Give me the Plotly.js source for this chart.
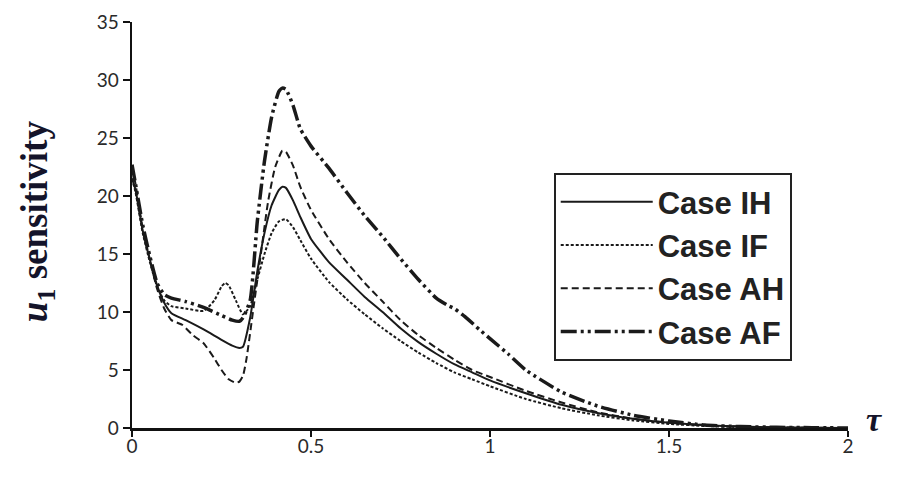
<!DOCTYPE html>
<html>
<head>
<meta charset="utf-8">
<script src="https://cdn.plot.ly/plotly-3.0.1.min.js"></script>
<style>html,body{margin:0;padding:0;background:#fff;}#chart{width:904px;height:479px;}</style>
</head>
<body>
<div id="chart"></div>
<script>
// ---- data ----
const seriesNames = ["Case IH", "Case IF", "Case AH", "Case AF"];

const tauIH  = [0, 0.01, 0.03, 0.05, 0.07, 0.09, 0.11, 0.15, 0.2, 0.25, 0.28, 0.3, 0.31, 0.33, 0.35, 0.37, 0.39, 0.41, 0.42, 0.43, 0.45, 0.47, 0.5, 0.55, 0.6, 0.65, 0.7, 0.75, 0.8, 0.85, 0.9, 0.95, 1.0, 1.1, 1.2, 1.3, 1.4, 1.5, 1.6, 1.7, 1.8, 1.9, 2.0];
const sensIH = [21.5, 20.5, 17.0, 14.5, 12.3, 10.8, 9.9, 9.3, 8.5, 7.6, 7.1, 6.9, 7.0, 9.5, 13.5, 16.8, 19.2, 20.5, 20.8, 20.7, 19.6, 18.2, 16.3, 14.3, 12.8, 11.3, 10.0, 8.6, 7.4, 6.4, 5.5, 4.8, 4.1, 3.0, 2.0, 1.3, 0.8, 0.45, 0.25, 0.12, 0.05, 0.02, 0.0];

const tauIF  = [0, 0.01, 0.03, 0.05, 0.07, 0.09, 0.11, 0.15, 0.2, 0.23, 0.25, 0.26, 0.27, 0.29, 0.31, 0.33, 0.35, 0.37, 0.39, 0.41, 0.43, 0.45, 0.47, 0.5, 0.55, 0.6, 0.65, 0.7, 0.75, 0.8, 0.85, 0.9, 0.95, 1.0, 1.1, 1.2, 1.3, 1.4, 1.5, 1.6, 1.7, 1.8, 1.9, 2.0];
const sensIF = [21.5, 20.3, 16.8, 14.3, 12.2, 11.0, 10.5, 10.3, 10.1, 11.0, 12.2, 12.5, 12.3, 11.0, 9.8, 10.5, 12.8, 15.0, 16.8, 17.8, 18.0, 17.3, 16.2, 14.6, 12.6, 11.1, 9.8, 8.6, 7.5, 6.5, 5.6, 4.8, 4.2, 3.6, 2.5, 1.7, 1.1, 0.65, 0.35, 0.18, 0.08, 0.04, 0.01, 0.0];

const tauAH  = [0, 0.01, 0.03, 0.05, 0.07, 0.09, 0.11, 0.14, 0.17, 0.2, 0.23, 0.25, 0.27, 0.29, 0.3, 0.31, 0.32, 0.34, 0.36, 0.38, 0.4, 0.42, 0.43, 0.45, 0.47, 0.5, 0.55, 0.6, 0.65, 0.7, 0.75, 0.8, 0.85, 0.9, 0.95, 1.0, 1.1, 1.2, 1.3, 1.4, 1.5, 1.6, 1.7, 1.8, 1.9, 2.0];
const sensAH = [22.5, 21.0, 17.2, 14.5, 12.0, 10.3, 9.3, 8.9, 8.0, 7.3, 6.0, 5.0, 4.2, 3.9, 4.0, 4.5, 6.0, 10.5, 15.0, 19.5, 22.5, 23.9, 23.8, 22.6, 20.8, 18.8, 16.3, 14.3, 12.5, 10.9, 9.3, 8.0, 6.9, 5.9, 5.0, 4.4, 3.2, 2.2, 1.35, 0.8, 0.45, 0.25, 0.12, 0.05, 0.02, 0.0];

const tauAF  = [0, 0.01, 0.03, 0.05, 0.07, 0.09, 0.11, 0.15, 0.2, 0.25, 0.28, 0.3, 0.31, 0.33, 0.35, 0.37, 0.39, 0.41, 0.42, 0.43, 0.45, 0.47, 0.5, 0.55, 0.6, 0.65, 0.7, 0.75, 0.8, 0.85, 0.88, 0.9, 0.93, 0.97, 1.0, 1.05, 1.1, 1.2, 1.3, 1.4, 1.5, 1.6, 1.7, 1.8, 1.9, 2.0];
const sensAF = [22.7, 21.0, 17.5, 14.8, 12.5, 11.5, 11.2, 10.9, 10.4, 9.7, 9.3, 9.2, 9.5, 11.0, 17.8, 23.0, 26.8, 29.0, 29.3, 29.2, 27.8, 25.8, 24.3, 22.4, 20.3, 18.3, 16.5, 14.6, 12.8, 11.2, 10.6, 10.3, 9.6, 8.5, 7.7, 6.4, 5.0, 3.1, 1.9, 1.1, 0.6, 0.25, 0.12, 0.06, 0.03, 0.0];

const xTickVals = [0, 0.5, 1, 1.5, 2];
const xTickText = ["0", "0.5", "1", "1.5", "2"];
const yTickVals = [0, 5, 10, 15, 20, 25, 30, 35];
const yTickText = ["0", "5", "10", "15", "20", "25", "30", "35"];

// ---- chart ----
const styles = [
  {width: 2, dash: "solid"},
  {width: 2, dash: "3px,2px"},
  {width: 2, dash: "7px,4px"},
  {width: 3.5, dash: "16px,4px,3px,4px,3px,4px"}
];
const xs = [tauIH, tauIF, tauAH, tauAF];
const ys = [sensIH, sensIF, sensAH, sensAF];

const traces = seriesNames.map((n, i) => ({
  type: "scatter", mode: "lines", name: n,
  x: xs[i], y: ys[i],
  legendgroup: "g" + i,
  line: {color: "#1a1a1a", width: styles[i].width, dash: styles[i].dash, shape: "spline", smoothing: 0.5}
}));

const tickFont = {family: "Lato, 'Liberation Sans', Arial, sans-serif", size: 19, color: "#2a2a2a"};

const layout = {
  width: 904, height: 479,
  margin: {l: 132, r: 56, t: 22, b: 51},
  paper_bgcolor: "#fff", plot_bgcolor: "#fff",
  showlegend: true,
  legend: {
    x: 0.589, y: 0.628, xanchor: "left", yanchor: "top",
    bgcolor: "#fff", bordercolor: "#222", borderwidth: 2,
    font: {family: "'Liberation Sans', Arial, sans-serif", size: 31, color: "#222", weight: "bold"},
    traceorder: "grouped", tracegroupgap: 0, itemwidth: 92
  },
  xaxis: {
    range: [0, 2], tickvals: xTickVals, ticktext: xTickText,
    showgrid: false, zeroline: false, showline: true, linecolor: "#111", linewidth: 2.5,
    ticks: "outside", ticklen: 6, tickwidth: 1.5, tickcolor: "#111", ticklabelstandoff: -6,
    tickfont: tickFont, fixedrange: true
  },
  yaxis: {
    range: [0, 35], tickvals: yTickVals, ticktext: yTickText,
    showgrid: false, zeroline: false, showline: true, linecolor: "#111", linewidth: 2.5,
    ticks: "outside", ticklen: 7, tickwidth: 1.5, tickcolor: "#111",
    tickfont: tickFont, fixedrange: true
  },
  annotations: [
    {xref: "paper", yref: "paper", x: -0.131, y: 0.51, xanchor: "center", yanchor: "middle",
     text: "<b><i>u</i><sub>1</sub> sensitivity</b>", textangle: -90, showarrow: false,
     font: {family: "'Liberation Serif', 'DejaVu Serif', serif", size: 37, color: "#14142a"}},
    {xref: "paper", yref: "paper", x: 1.022, y: 0.02, xanchor: "left", yanchor: "middle",
     text: "<b><i>τ</i></b>", showarrow: false,
     font: {family: "'Liberation Serif', 'DejaVu Serif', serif", size: 34, color: "#14142a"}}
  ]
};

Plotly.newPlot("chart", traces, layout, {displayModeBar: false, staticPlot: true});
</script>
</body>
</html>
